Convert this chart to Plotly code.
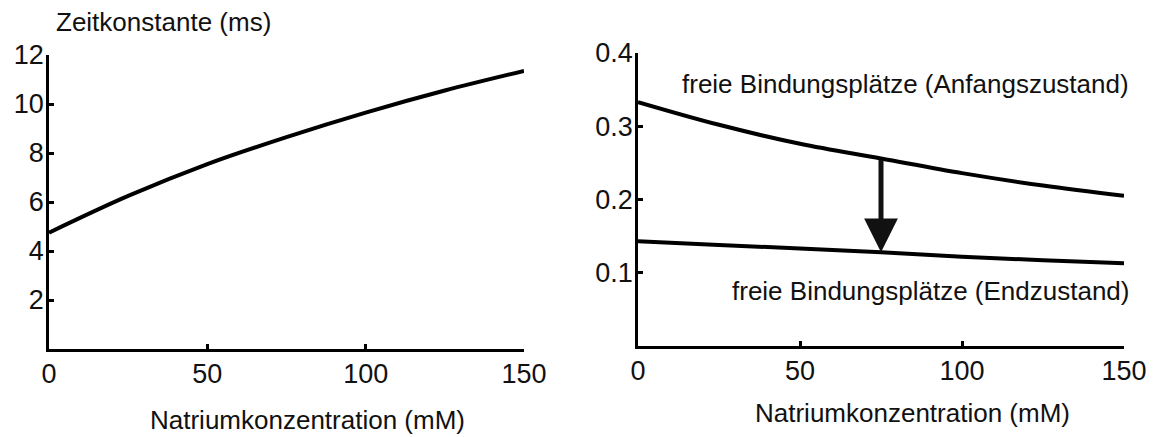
import plotly.graph_objects as go

# ---- data ----
sodium_mM = [0, 25, 50, 75, 100, 125, 150]
time_constant_ms = [4.75, 6.25, 7.55, 8.65, 9.65, 10.55, 11.35]
free_sites_initial = [0.333, 0.302, 0.276, 0.256, 0.236, 0.219, 0.205]
free_sites_final = [0.143, 0.138, 0.133, 0.128, 0.122, 0.117, 0.113]
x_ticks = [0, 50, 100, 150]
y1_ticks = [2, 4, 6, 8, 10, 12]
y2_ticks = [0.1, 0.2, 0.3, 0.4]
y2_ticklabels = ["0.1", "0.2", "0.3", "0.4"]
arrow_x = 75

FONT = "Liberation Sans, Arial, Helvetica, sans-serif"
W, H = 1155, 437

fig = go.Figure()
fig.add_trace(go.Scatter(x=sodium_mM, y=time_constant_ms, mode="lines",
                         line=dict(color="black", width=4, shape="spline"),
                         xaxis="x", yaxis="y", showlegend=False))
fig.add_trace(go.Scatter(x=sodium_mM, y=free_sites_initial, mode="lines",
                         line=dict(color="black", width=4, shape="spline"),
                         xaxis="x2", yaxis="y2", showlegend=False))
fig.add_trace(go.Scatter(x=sodium_mM, y=free_sites_final, mode="lines",
                         line=dict(color="black", width=4, shape="spline"),
                         xaxis="x2", yaxis="y2", showlegend=False))

axis_common = dict(showline=True, linecolor="black", linewidth=2.5, ticks="inside",
                   ticklen=5, tickwidth=2.5, tickcolor="black", showgrid=False,
                   zeroline=False, tickfont=dict(family=FONT, size=27, color="#111"),
                   mirror=False, automargin=False)

fig.update_layout(
    width=W, height=H, margin=dict(l=0, r=0, t=0, b=0, autoexpand=False),
    paper_bgcolor="white", plot_bgcolor="white",
    font=dict(family=FONT, size=24, color="#111"),
    xaxis=dict(domain=[49 / W, 524 / W], range=[0, 150], tickvals=x_ticks,
               anchor="y", ticklabelstandoff=-1, **axis_common),
    yaxis=dict(domain=[88 / H, 382 / H], range=[0, 12], tickvals=y1_ticks,
               anchor="x", ticklabelstandoff=-3, **axis_common),
    xaxis2=dict(domain=[638 / W, 1124 / W], range=[0, 150], tickvals=x_ticks,
                anchor="y2", ticklabelstandoff=-1, **axis_common),
    yaxis2=dict(domain=[91 / H, 384 / H], range=[0, 0.4], tickvals=y2_ticks,
                ticktext=y2_ticklabels, anchor="x2", ticklabelstandoff=-3, **axis_common),
)

def txt(text, px, py, xanchor="center"):
    fig.add_annotation(text=text, x=px / W, y=1 - py / H, xref="paper", yref="paper",
                       xanchor=xanchor, yanchor="middle", showarrow=False,
                       font=dict(family=FONT, size=26, color="#111"))

txt("Zeitkonstante (ms)", 163, 22)
txt("Natriumkonzentration (mM)", 307, 420)
txt("Natriumkonzentration (mM)", 912, 413)
txt("freie Bindungsplätze (Anfangszustand)", 1131, 84, xanchor="right")
txt("freie Bindungsplätze (Endzustand)", 1131, 291, xanchor="right")

i = sodium_mM.index(arrow_x)
fig.add_annotation(x=arrow_x, y=free_sites_final[i], ax=arrow_x, ay=free_sites_initial[i],
                   xref="x2", yref="y2", axref="x2", ayref="y2", text="",
                   showarrow=True, arrowhead=2, arrowsize=1.35, arrowwidth=5,
                   arrowcolor="#111")

fig.write_html("out.html")
